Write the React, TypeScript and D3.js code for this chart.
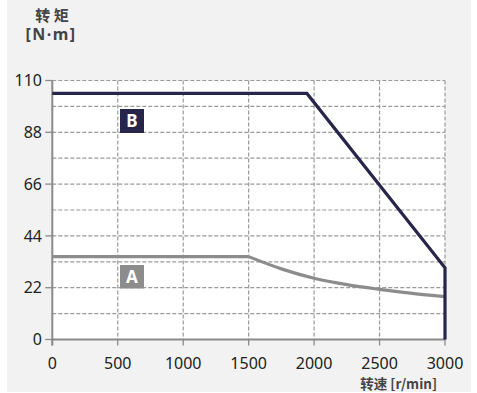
import React from "react";
import * as d3 from "d3";

const xTicks = [0, 500, 1000, 1500, 2000, 2500, 3000];
const yTicks = [0, 22, 44, 66, 88, 110];
const yGrid = [11, 22, 33, 44, 55, 66, 77, 88, 99, 110];
const speedB = [0, 1945, 3000, 3000];
const torqueB = [104.5, 104.5, 30.5, 0];
const speedAFlat = [0, 1500];
const torqueAFlat = [35.2, 35.2];
const speedACurve = [1500, 1750, 2000, 2250, 2500, 2750, 3000];
const torqueACurve = [35.2, 30.0, 26.0, 23.3, 21.3, 19.6, 18.2];
const labelA = "A";
const labelB = "B";

export default function App() {
  const x = d3.scaleLinear().domain([0, 3000]).range([52.3, 445]);
  const y = d3.scaleLinear().domain([0, 110]).range([339.5, 80.5]);
  const mk = (xs: number[], ys: number[], curve: any) =>
    d3
      .line<number>()
      .x((d) => x(xs[d]))
      .y((d) => y(ys[d]))
      .curve(curve)(xs.map((_, i) => i)) || "";
  const pathB = mk(speedB, torqueB, d3.curveLinear);
  const pathAFlat = mk(speedAFlat, torqueAFlat, d3.curveLinear);
  const pathACurve = mk(speedACurve, torqueACurve, d3.curveMonotoneX);
  const font = "'Noto Sans', 'Open Sans', sans-serif";
  const cjk = "'Noto Sans CJK SC', 'Noto Sans', sans-serif";
  return (
    <svg
      width={477}
      height={393}
      style={{ position: "absolute", left: 0, top: 0 }}
    >
      <rect x={0} y={0} width={477} height={393} fill="#ffffff" />
      <rect x={7} y={0} width={464} height={392} fill="#f1f2f1" />
      <rect x={x(0)} y={y(110)} width={x(3000) - x(0)} height={y(0) - y(110)} fill="#ffffff" />
      {yGrid.map((v) => (
        <line
          key={"hy" + v}
          x1={x(0)}
          x2={x(3000)}
          y1={y(v)}
          y2={y(v)}
          stroke="#9a9a9a"
          strokeWidth={1.2}
          strokeDasharray="4,2"
        />
      ))}
      {xTicks.slice(1).map((v) => (
        <line
          key={"vx" + v}
          x1={x(v)}
          x2={x(v)}
          y1={y(110)}
          y2={y(0)}
          stroke="#9a9a9a"
          strokeWidth={1.2}
          strokeDasharray="4,2"
        />
      ))}
      <line x1={x(0)} x2={x(0)} y1={y(110)} y2={y(0) + 6} stroke="#8a8a8a" strokeWidth={2} />
      <line x1={x(0)} x2={x(3000)} y1={y(0)} y2={y(0)} stroke="#8a8a8a" strokeWidth={2} />
      {yTicks.map((v) => (
        <line key={"ty" + v} x1={x(0) - 7} x2={x(0)} y1={y(v)} y2={y(v)} stroke="#8a8a8a" strokeWidth={1.3} />
      ))}
      {xTicks.map((v) => (
        <line key={"tx" + v} x1={x(v)} x2={x(v)} y1={y(0)} y2={y(0) + 6} stroke="#8a8a8a" strokeWidth={1.3} />
      ))}
      {yTicks.map((v) => (
        <text
          key={"ly" + v}
          x={42}
          y={y(v)}
          dy="0.36em"
          textAnchor="end"
          fontFamily={font}
          fontSize={16}
          fill="#222"
        >
          {v}
        </text>
      ))}
      {xTicks.map((v) => (
        <text
          key={"lx" + v}
          x={x(v)}
          y={369}
          textAnchor="middle"
          fontFamily={font}
          fontSize={16}
          fill="#222"
        >
          {v}
        </text>
      ))}
      <path d={pathAFlat} fill="none" stroke="#8c8c8c" strokeWidth={3.2} />
      <path d={pathACurve} fill="none" stroke="#8c8c8c" strokeWidth={3.2} />
      <path d={pathB} fill="none" stroke="#27254a" strokeWidth={3.2} strokeLinejoin="miter" />
      <rect x={120} y={109} width={24} height={24} fill="#27254a" />
      <text x={132} y={121} dy="0.36em" textAnchor="middle" fontFamily={font} fontSize={17} fontWeight="bold" fill="#fff">
        {labelB}
      </text>
      <rect x={120} y={265} width={24} height={23.5} fill="#8c8c8c" />
      <text x={132} y={277} dy="0.36em" textAnchor="middle" fontFamily={font} fontSize={17} fontWeight="bold" fill="#fff">
        {labelA}
      </text>
      <text x={52} y={21} textAnchor="middle" fontFamily={cjk} fontSize={15} fontWeight="bold" fill="#444">
        转 矩
      </text>
      <text x={51} y={40} textAnchor="middle" fontFamily={font} fontSize={16} fontWeight="bold" fill="#444" letterSpacing={1.5}>
        [N·m]
      </text>
      <text x={437} y={389} textAnchor="end" fontFamily={cjk} fontSize={13.5} fontWeight="bold" fill="#444">
        转速 [r/min]
      </text>
    </svg>
  );
}
